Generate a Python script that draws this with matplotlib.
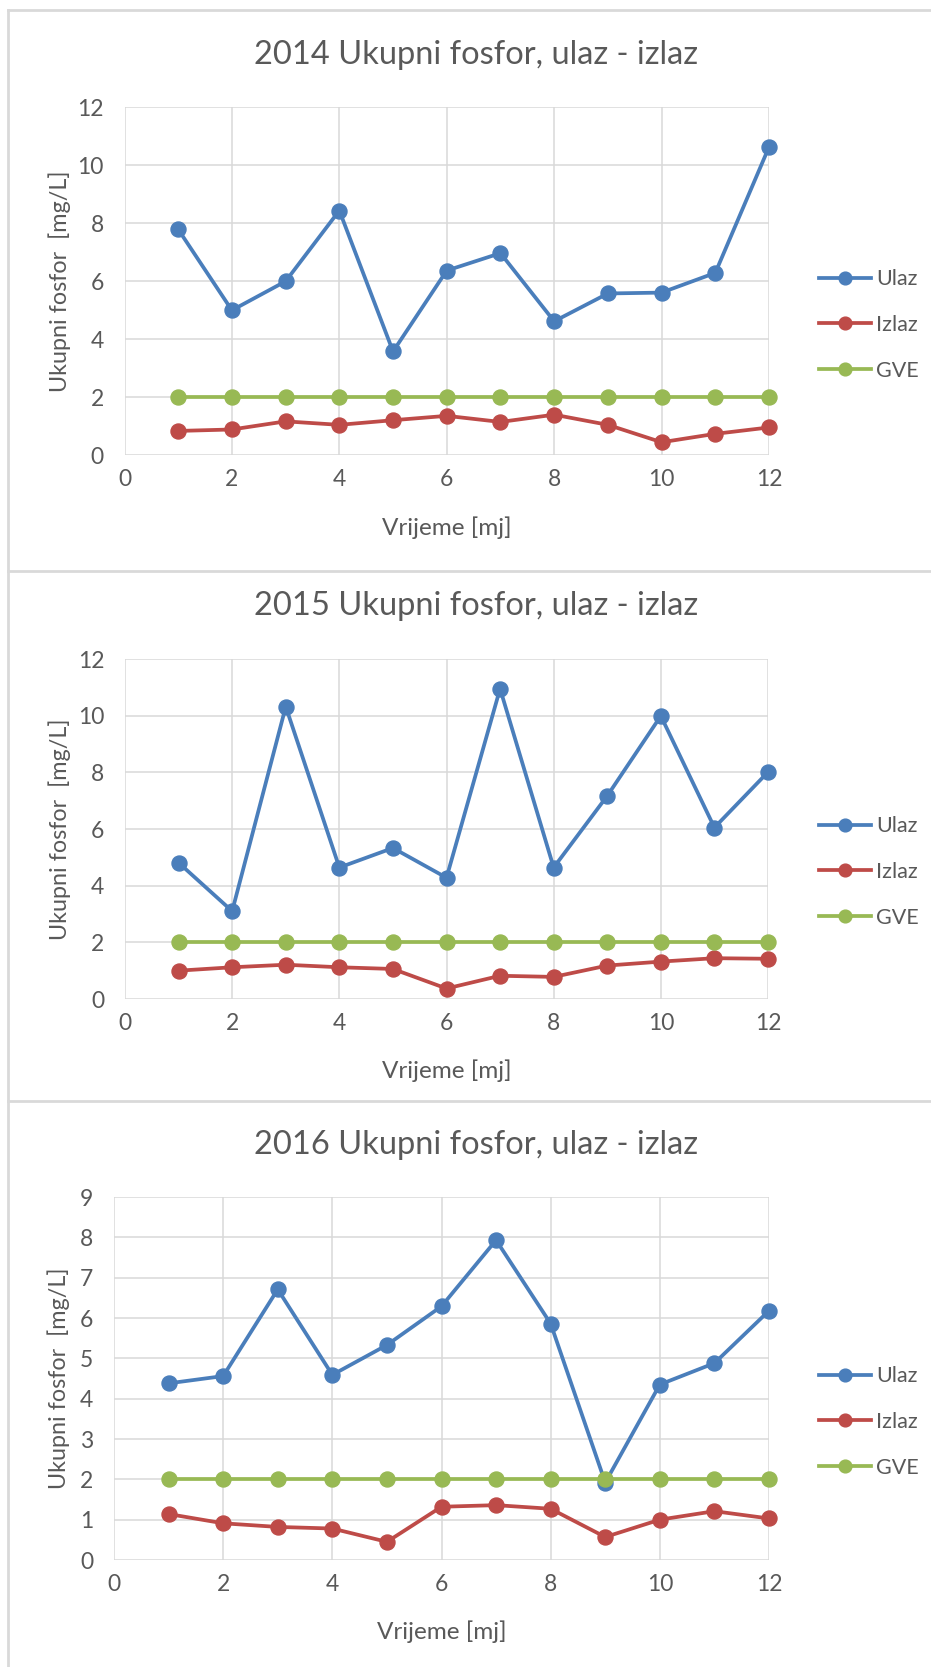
import matplotlib
matplotlib.use("Agg")
import matplotlib.pyplot as plt
from matplotlib.lines import Line2D

plt.rcParams['font.family'] = ['Lato', 'DejaVu Sans']

months = [1, 2, 3, 4, 5, 6, 7, 8, 9, 10, 11, 12]

ulaz_2014 = [7.78, 4.99, 5.99, 8.43, 3.57, 6.36, 6.96, 4.61, 5.57, 5.60, 6.28, 10.62]
izlaz_2014 = [0.83, 0.88, 1.16, 1.04, 1.20, 1.35, 1.14, 1.39, 1.04, 0.44, 0.73, 0.95]
gve_2014 = [2, 2, 2, 2, 2, 2, 2, 2, 2, 2, 2, 2]

ulaz_2015 = [4.81, 3.10, 10.32, 4.64, 5.33, 4.28, 10.95, 4.64, 7.17, 9.99, 6.05, 8.01]
izlaz_2015 = [1.00, 1.12, 1.21, 1.12, 1.06, 0.37, 0.82, 0.78, 1.18, 1.32, 1.44, 1.42]
gve_2015 = [2, 2, 2, 2, 2, 2, 2, 2, 2, 2, 2, 2]

ulaz_2016 = [4.38, 4.56, 6.71, 4.59, 5.33, 6.29, 7.93, 5.86, 1.92, 4.35, 4.88, 6.18]
izlaz_2016 = [1.14, 0.91, 0.82, 0.78, 0.45, 1.32, 1.36, 1.27, 0.57, 1.00, 1.21, 1.03]
gve_2016 = [2, 2, 2, 2, 2, 2, 2, 2, 2, 2, 2, 2]

titles = ["2014 Ukupni fosfor, ulaz - izlaz",
          "2015 Ukupni fosfor, ulaz - izlaz",
          "2016 Ukupni fosfor, ulaz - izlaz"]
series_names = ["Ulaz", "Izlaz", "GVE"]
x_label = "Vrijeme [mj]"
y_label = "Ukupni fosfor  [mg/L]"

W, H = 931, 1667
fig = plt.figure(figsize=(W / 100, H / 100), dpi=100)
fig.patch.set_facecolor('white')

TXT = '#595959'
GRID = '#d9d9d9'
COLORS = ['#4a7ebb', '#be4b48', '#98b954']


def rect(x0, x1, ytop, ybot):
    return [x0 / W, 1 - ybot / H, (x1 - x0) / W, (ybot - ytop) / H]


# panel borders
border_kw = dict(color='#d9d9d9', lw=2.0, transform=fig.transFigure)
fig.add_artist(Line2D([8 / W, 8 / W], [1 - 10 / H, 0], **border_kw))
for yb in (10, 571, 1101):
    fig.add_artist(Line2D([8 / W, 1], [1 - yb / H, 1 - yb / H], **border_kw))

panels = [
    dict(pos=(124.5, 769, 107, 455), ymax=12, ystep=2, title_y=55, xl_y=528, yl_x=60, leg_mid=325,
         data=(ulaz_2014, izlaz_2014, gve_2014), title=titles[0]),
    dict(pos=(125, 768, 659, 999), ymax=12, ystep=2, title_y=606, xl_y=1071, yl_x=60, leg_mid=872,
         data=(ulaz_2015, izlaz_2015, gve_2015), title=titles[1]),
    dict(pos=(114, 769, 1197, 1560), ymax=9, ystep=1, title_y=1145, xl_y=1632, yl_x=59, leg_mid=1422,
         data=(ulaz_2016, izlaz_2016, gve_2016), title=titles[2]),
]

for p in panels:
    x0, x1, yt, yb = p['pos']
    ax = fig.add_axes(rect(x0, x1, yt, yb))
    for ser, col, name in zip(p['data'], COLORS, series_names):
        ax.plot(months, ser, color=col, lw=2.7, marker='o', markersize=10.8,
                label=name, clip_on=False, zorder=3)
    ax.set_xlim(0, 12)
    ax.set_ylim(0, p['ymax'])
    ax.set_xticks(range(0, 13, 2))
    ax.set_yticks(range(0, p['ymax'] + 1, p['ystep']))
    ax.grid(True, color=GRID, lw=1.1, zorder=0)
    ax.set_axisbelow(True)
    for s in ax.spines.values():
        s.set_visible(False)
    ax.tick_params(length=0, labelsize=16.5, labelcolor=TXT)
    ax.tick_params(axis='y', pad=15)
    ax.tick_params(axis='x', pad=10)
    # title
    fig.text(476 / W, 1 - p['title_y'] / H, p['title'], ha='center', va='center',
             fontsize=23.5, color=TXT)
    # x label
    fig.text((x0 + x1) / 2 / W, 1 - p['xl_y'] / H, x_label, ha='center', va='center',
             fontsize=17.5, color=TXT)
    # y label
    fig.text(p['yl_x'] / W, 1 - (yt + yb) / 2 / H, y_label, ha='center', va='center',
             rotation=90, fontsize=16.8, color=TXT)
    # legend
    mid = p['leg_mid']
    leg = ax.legend(loc='center left', bbox_to_anchor=((819 - x0) / (x1 - x0), (yb - mid) / (yb - yt)),
                    frameon=False, fontsize=15.5, handlelength=2.4, handletextpad=0.25,
                    labelspacing=1.2, borderpad=0, borderaxespad=0, markerscale=0.85)
    for t in leg.get_texts():
        t.set_color(TXT)

fig.savefig("out.png", dpi=100, facecolor='white')
